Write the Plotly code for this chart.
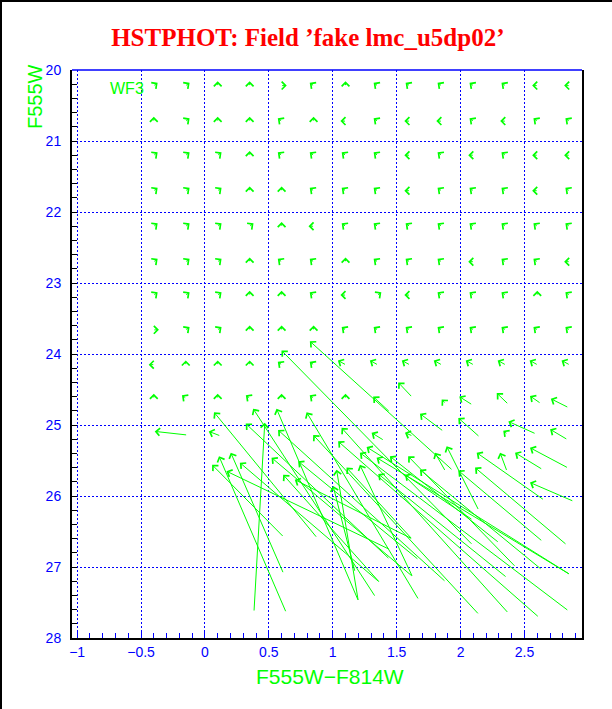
import plotly.graph_objects as go

GREEN = "#00ff00"
BLUE = "#0000ff"

# ---- bright part: grid of fake-star inputs (colour, magnitude) ----
GRID_COLOR = [-0.4, -0.15, 0.1, 0.35, 0.6, 0.85, 1.1, 1.35, 1.6, 1.85, 2.1, 2.35, 2.6, 2.85]
GRID_MAG = [20.22, 20.72, 21.2, 21.7, 22.2, 22.7, 23.17, 23.66, 24.15, 24.62]
# direction of the (tiny) recovered shift at each grid point
GRID_SHIFT = [
    "NE NE N N E NW N NW NW NW NW NW W W",
    "N NE N N NW N W NW W W NW W NW NW",
    "NE NE NE N NW NW NW NW W NW W NW W W",
    "NE NE NE N N NW NW NW W NW NW NW W NW",
    "NE NE NE NE N W NW NW NW NW NW NW NW NW",
    "NE NE NE N NW NW N NW NW NW W NW NW W",
    "NE NE NE N N NW W NE W NW NW NW N NW",
    "E NE NE N N N NW NW NW NW NW NW NW NW",
    "W N N N NW NW NWL NWL NWL NWL NWL NWL NWL NWL",
    "N NW N NW N NW N - - - - - - -",
]
# estimated size of those small shifts (colour, magnitude)
SHIFT_SIZE = {
    "N": (0.0, -0.06), "NE": (0.03, -0.04), "NW": (-0.03, -0.04),
    "E": (0.04, 0.0), "W": (-0.04, 0.0), "NWL": (-0.06, -0.06),
}

# ---- faint part: individual input -> recovered vectors ----
IN_COLOR = [0.384, 0.633, 1.199, 1.330, 1.363, 1.669, 1.878, 2.139, 2.369, 2.608,
            2.839, 2.851, 2.630, 2.426, 2.356, 1.622, 0.612, 1.173, 0.612, 0.873,
            1.442, 1.439, 1.617, 2.295, 2.635, 2.825, 2.139, 2.648, 2.878, 1.878,
            2.361, 2.635, 2.836, 1.933, 2.089, 1.666, 1.363, 2.851, 2.089, 1.622,
            1.617, 1.199,
            -0.143, 0.116, 1.395, 1.860, 2.144, 2.583, 2.831, 1.619, 2.363,
            1.617, 2.087, 2.369, 2.622, 2.839, 1.442, 1.878]
IN_MAG = [27.62, 27.63, 27.47, 27.41, 27.21, 27.45, 27.20, 27.66, 27.64, 27.70,
          27.61, 27.10, 27.03, 26.99, 27.14, 27.13, 27.08, 27.06, 26.57, 26.58,
          26.75, 26.88, 26.60, 26.65, 26.63, 26.68, 26.19, 26.05, 26.07, 25.64,
          25.64, 25.62, 25.60, 25.63, 26.68, 26.89, 27.21, 27.10, 26.33, 27.13,
          26.60, 27.47,
          25.14, 25.15, 25.21, 25.08, 25.16, 25.12, 25.20, 25.15, 25.12,
          24.60, 24.71, 24.70, 24.69, 24.75, 24.81, 24.69]
OUT_COLOR = [0.468, 0.110, 0.560, 0.377, 0.273, 0.795, 0.572, 0.847, 1.069, 1.042,
             1.212, 1.343, 1.682, 1.590, 1.356, 0.521, 0.202, 1.003, 0.056, 0.071,
             0.168, 0.319, 0.703, 1.447, 1.982, 2.113, 1.891, 2.126, 2.543, 1.800,
             2.309, 2.426, 2.543, 0.821, 0.599, 0.729, 0.612, 1.265, 1.565, 1.212,
             1.108, 1.030,
             -0.393, 0.030, 1.304, 1.682, 1.982, 2.374, 2.700, 1.565, 2.334,
             1.512, 1.990, 2.283, 2.543, 2.706, 1.316, 1.852]
OUT_MAG = [24.97, 25.44, 24.77, 24.77, 25.53, 24.82, 25.07, 25.14, 25.04, 25.23,
           25.39, 25.46, 25.63, 25.44, 25.69, 25.46, 25.39, 25.86, 25.56, 24.82,
           25.65, 24.98, 25.77, 25.44, 25.64, 25.60, 25.30, 25.39, 25.81, 25.39,
           25.39, 25.39, 25.32, 23.82, 23.95, 25.51, 25.70, 25.31, 25.70, 25.56,
           25.60, 25.63,
           25.09, 25.09, 25.11, 24.84, 24.90, 24.95, 25.06, 25.11, 25.08,
           24.40, 24.60, 24.55, 24.59, 24.63, 24.60, 24.64]

X_RANGE = [-1.04, 2.95]
Y_RANGE = [28, 20]

ML, MR, MT, MB = 72, 30, 70, 71
W, H = 612, 709
PW, PH = W - ML - MR, H - MT - MB


def arrow(x0, y0, x1, y1):
    return dict(x=x1, y=y1, ax=x0, ay=y0, xref="x", yref="y", axref="x", ayref="y",
                text="", font=dict(size=1), borderpad=0,
                showarrow=True, arrowhead=4, arrowsize=1.5, arrowwidth=1,
                arrowcolor=GREEN, standoff=0)


annotations = []
for mag, row in zip(GRID_MAG, GRID_SHIFT):
    for col, code in zip(GRID_COLOR, row.split()):
        if code == "-":
            continue
        dc, dm = SHIFT_SIZE[code]
        annotations.append(arrow(col, mag, col + dc, mag + dm))

for x0, y0, x1, y1 in zip(IN_COLOR, IN_MAG, OUT_COLOR, OUT_MAG):
    annotations.append(arrow(x0, y0, x1, y1))

annotations.append(dict(x=-0.61, y=20.26, xref="x", yref="y", text="WF3", showarrow=False,
                        font=dict(family="Liberation Sans", size=16, color=GREEN)))
annotations.append(dict(x=(35 - ML) / PW, y=1 - (97 - MT) / PH, xref="paper", yref="paper",
                        text="F555W", textangle=-90, showarrow=False,
                        xanchor="center", yanchor="middle",
                        font=dict(family="Liberation Sans", size=20, color=GREEN)))
annotations.append(dict(x=(330 - ML) / PW, y=-(676 - (MT + PH)) / PH, xref="paper", yref="paper",
                        text="F555W\u2212F814W", showarrow=False,
                        xanchor="center", yanchor="middle",
                        font=dict(family="Liberation Sans", size=21, color=GREEN)))

fig = go.Figure()
fig.add_trace(go.Scatter(x=OUT_COLOR, y=OUT_MAG, mode="markers",
                         marker=dict(size=1, color=GREEN, opacity=0),
                         hoverinfo="skip", showlegend=False))

shapes = [
    dict(type="line", xref="paper", yref="paper", x0=0, x1=1, y0=1, y1=1,
         line=dict(color=BLUE, width=1.5)),
    dict(type="line", xref="paper", yref="paper", x0=(1 - ML) / PW, x1=(1 - ML) / PW,
         y0=-MB / PH, y1=1 + MT / PH, line=dict(color="black", width=2)),
    dict(type="line", xref="paper", yref="paper", x0=-ML / PW, x1=1 + MR / PW,
         y0=1 + (MT - 1) / PH, y1=1 + (MT - 1) / PH, line=dict(color="black", width=2)),
]

fig.update_layout(
    width=W, height=H,
    margin=dict(l=ML, r=MR, t=MT, b=MB),
    paper_bgcolor="white", plot_bgcolor="white",
    showlegend=False,
    title=dict(text="<b>HSTPHOT: Field \u2019fake lmc_u5dp02\u2019</b>",
               x=0.503, xref="container", y=1 - 37 / H, yref="container",
               xanchor="center", yanchor="middle",
               font=dict(family="Liberation Serif", size=25, color="red")),
    annotations=annotations,
    shapes=shapes,
)

fig.update_xaxes(
    range=X_RANGE, tick0=0, dtick=0.5,
    ticks="inside", ticklen=6, tickcolor=BLUE, tickwidth=1,
    minor=dict(dtick=0.1, ticks="inside", ticklen=5, tickcolor=BLUE, showgrid=False),
    showgrid=True, gridcolor=BLUE, gridwidth=1, griddash="2px,2px",
    showline=True, linecolor="black", linewidth=2, mirror=False, zeroline=False,
    tickfont=dict(family="Liberation Sans", size=14, color=BLUE),
)
fig.update_yaxes(
    range=Y_RANGE, tick0=20, dtick=1,
    ticks="inside", ticklen=5, tickcolor="black", tickwidth=1,
    minor=dict(dtick=0.2, ticks="inside", ticklen=5, tickcolor="black", showgrid=False),
    showgrid=True, gridcolor=BLUE, gridwidth=1, griddash="2px,2px",
    showline=True, linecolor="black", linewidth=2, mirror=True, zeroline=False,
    ticklabelstandoff=6,
    tickfont=dict(family="Liberation Sans", size=14, color=BLUE),
)

fig.write_html("out.html", config={"displayModeBar": False},
               post_script="document.body.style.margin='0px';")
